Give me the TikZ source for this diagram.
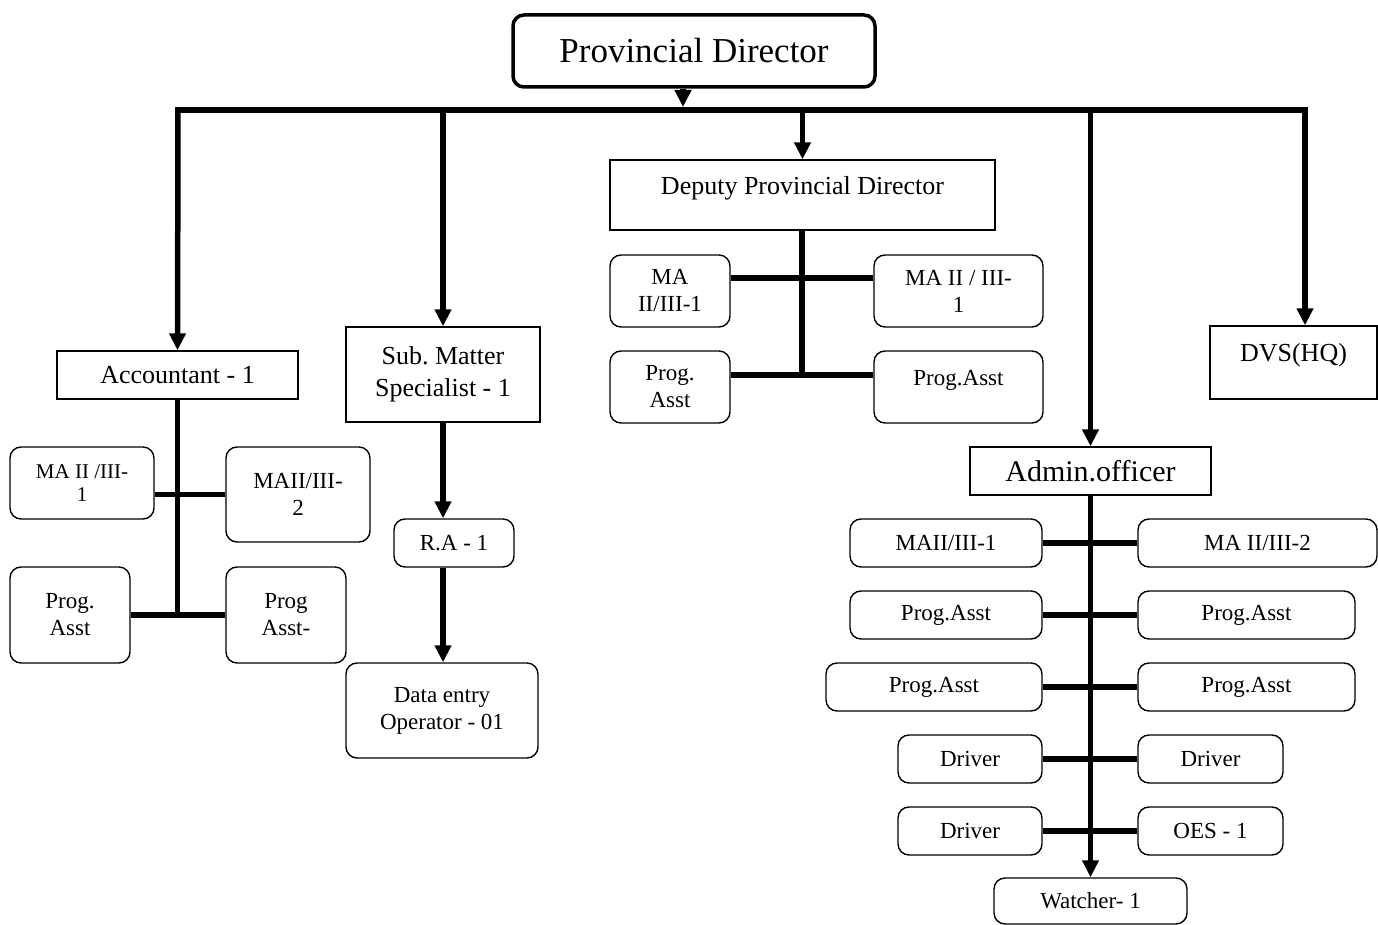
\documentclass[tikz,border=0pt]{standalone}
\usepackage{fontspec}
\setmainfont{Liberation Serif}
\usetikzlibrary{arrows.meta}
\frenchspacing
\begin{document}
\begin{tikzpicture}[x=1pt,y=-1pt,
  box/.style={draw, line width=1.4pt, inner sep=0pt, align=center},
  rbox/.style={box, rounded corners=11pt},
  conn/.style={line width=5.5pt},
  arr/.style={line width=5.5pt, -{Triangle[length=17pt,width=16pt]}},
  fxl/.style={font=\fontsize{35}{40}\selectfont},
  fxm/.style={font=\fontsize{30}{34}\selectfont},
  fl/.style={font=\fontsize{26}{32}\selectfont},
  fm/.style={font=\fontsize{23}{27}\selectfont},
  fs/.style={font=\fontsize{21}{23}\selectfont},
  raise/.style={text height=10pt, text depth=#1},
]
\useasboundingbox (0,0) rectangle (1378,925);

% top
\node[rbox, line width=3.5pt, fxl, minimum width=362pt, minimum height=72pt] (pd) at (694,51) {Provincial Director};
\coordinate (bL) at (178,110);
\coordinate (bR) at (1305,110);
\coordinate (bPD) at (683,107);
\draw[conn, line cap=rect] (bL) -- (bR);
\draw[arr] (pd.south -| bPD) -- (bPD);

% Deputy
\node[box, fl, raise=10.8pt, minimum width=385pt, minimum height=70pt] (dep) at (802.5,195) {Deputy Provincial Director};
\node[rbox, fm, minimum width=120pt, minimum height=72pt] (d1) at (670,291) {MA\\II/III-1};
\node[rbox, fm, minimum width=169pt, minimum height=72pt] (d2) at (958.5,291) {MA II / III-\\1};
\node[rbox, fm, minimum width=120pt, minimum height=72pt] (d3) at (670,387) {Prog.\\Asst};
\node[rbox, fm, raise=12.8pt, minimum width=169pt, minimum height=72pt] (d4) at (958.5,387) {Prog.Asst};
\coordinate (dj1) at (802,278);
\coordinate (dj2) at (802,375);
\draw[arr] (dep.north |- bL) -- (dep.north);
\draw[conn] (dep.south -| dj1) -- (dj2);
\draw[conn] (d1.east |- dj1) -- (d2.west |- dj1);
\draw[conn] (d3.east |- dj2) -- (d4.west |- dj2);

% Accountant
\node[box, fl, minimum width=241pt, minimum height=48pt] (acc) at (177.5,375) {Accountant - 1};
\node[rbox, fs, minimum width=144pt, minimum height=72pt] (a1) at (82,483) {MA II /III-\\1};
\node[rbox, fm, minimum width=144pt, minimum height=95pt] (a2) at (298,494.5) {MAII/III-\\2};
\node[rbox, fm, minimum width=120pt, minimum height=96pt] (a3) at (70,615) {Prog.\\Asst};
\node[rbox, fm, minimum width=120pt, minimum height=96pt] (a4) at (286,615) {Prog\\Asst-};
\draw[arr] (bL) -- (acc.north);
\draw[conn] (acc.south) -- (acc.south |- a3.east);
\draw[conn] (a1.east |- a2.west) -- (a2.west);
\draw[conn] (a3.east) -- (a4.west);

% Sub matter specialist
\node[box, fl, minimum width=194pt, minimum height=95pt] (sms) at (443,374.5) {Sub. Matter\\Specialist - 1};
\node[rbox, fm, minimum width=120pt, minimum height=48pt] (ra) at (454,543) {R.A - 1};
\node[rbox, fm, minimum width=192pt, minimum height=95pt] (de) at (442,710.5) {Data entry\\Operator - 01};
\draw[arr] (sms.north |- bL) -- (sms.north);
\draw[arr] (sms.south) -- (sms.south |- ra.north);
\draw[arr] (sms.south |- ra.south) -- (sms.south |- de.north);

% DVS
\node[box, fl, raise=11.8pt, minimum width=167pt, minimum height=73pt] (dvs) at (1293.5,362.5) {DVS(HQ)};
\draw[arr] (bR) -- (bR |- dvs.north);

% Admin
\node[box, fxm, minimum width=241pt, minimum height=48pt] (adm) at (1090.5,471) {Admin.officer};
\node[rbox, fm, minimum width=192pt, minimum height=48pt] (l1) at (946,543) {MAII/III-1};
\node[rbox, fm, minimum width=239pt, minimum height=48pt] (r1) at (1257.5,543) {MA II/III-2};
\node[rbox, fm, minimum width=192pt, minimum height=48pt] (l2) at (946,615) {Prog.Asst};
\node[rbox, fm, minimum width=217pt, minimum height=48pt] (r2) at (1246.5,615) {Prog.Asst};
\node[rbox, fm, minimum width=216pt, minimum height=48pt] (l3) at (934,687) {Prog.Asst};
\node[rbox, fm, minimum width=217pt, minimum height=48pt] (r3) at (1246.5,687) {Prog.Asst};
\node[rbox, fm, minimum width=144pt, minimum height=48pt] (l4) at (970,759) {Driver};
\node[rbox, fm, minimum width=145pt, minimum height=48pt] (r4) at (1210.5,759) {Driver};
\node[rbox, fm, minimum width=144pt, minimum height=48pt] (l5) at (970,831) {Driver};
\node[rbox, fm, minimum width=145pt, minimum height=48pt] (r5) at (1210.5,831) {OES - 1};
\node[rbox, fm, minimum width=193pt, minimum height=46pt] (wat) at (1090.5,901) {Watcher- 1};
\draw[arr] (adm.north |- bL) -- (adm.north);
\draw[arr] (adm.south) -- (wat.north);
\draw[conn] (l1.east) -- (r1.west);
\draw[conn] (l2.east) -- (r2.west);
\draw[conn] (l3.east) -- (r3.west);
\draw[conn] (l4.east) -- (r4.west);
\draw[conn] (l5.east) -- (r5.west);
\end{tikzpicture}
\end{document}
